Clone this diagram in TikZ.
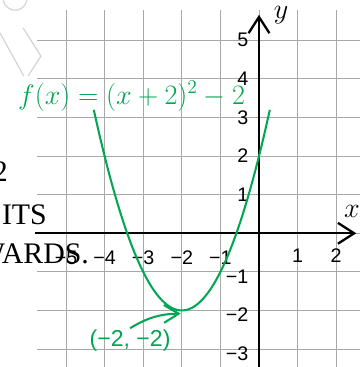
\documentclass[tikz,border=0pt]{standalone}
\usepackage{fontspec}
\usepackage{tikz}
\usetikzlibrary{positioning,arrows.meta}
\newfontfamily\tickfont{Liberation Sans}
\newfontfamily\pagefont{Liberation Serif}
\definecolor{CurveGreen}{RGB}{0,166,81}
\definecolor{GridGray}{RGB}{168,168,168}
\definecolor{MarkGray}{RGB}{212,212,212}

\begin{document}
\begin{tikzpicture}[every node/.style={inner sep=0pt},
  gridline/.style={GridGray, line width=0.7pt},
  axisline/.style={line width=1.7pt, -{Straight Barb[length=4.2mm,width=5.4mm]}},
  ticklab/.style={font=\tickfont\fontsize{14.5}{14.5}\selectfont},
  pagetext/.style={font=\pagefont\fontsize{22}{22}\selectfont, anchor=base east}]
\useasboundingbox (-6.71,-3.464) rectangle (2.617,6.044);
% faint mark
\draw[MarkGray, line width=0.9pt] (-6.625,6.036) arc[start angle=190, end angle=350, radius=0.31];
\draw[MarkGray, line width=0.9pt] (-6.11,5.32) -- (-5.65,4.59) -- (-5.98,4.08);
\draw[MarkGray, line width=0.9pt] (-6.71,5.19) -- (-6.09,4.07);
% grid
\foreach \x in {-5,...,2} \draw[gridline] (\x,-3.47) -- (\x,5.78);
\foreach \y in {-3,...,5} \draw[gridline] (-5.75,\y) -- (2.62,\y);
% axes
\coordinate (xstart) at (-5.8,0);
\coordinate (xend) at (2.52,0);
\coordinate (ystart) at (0,-3.47);
\coordinate (yend) at (0,5.66);
\draw[axisline] (xstart) -- (xend);
\draw[axisline] (ystart) -- (yend);
\node[font=\fontsize{20}{20}\selectfont] (xlab) at (2.41,0.57) {$x$};
\node[font=\fontsize{20}{20}\selectfont] (ylab) at (0.57,5.64) {$y$};
% ticks
\foreach \n in {1,...,5} \node[ticklab] at (-\n,-0.64) {−\n};
\foreach \n in {1,2} \node[ticklab] at (\n,-0.58) {\n};
\foreach \n in {1,...,5} \node[ticklab, anchor=east] at (-0.27,\n) {\n};
\foreach \n in {1,2,3} \node[ticklab, anchor=east] at (-0.27,-\n-0.12) {−\n};
% page fragments
\node[pagetext] (frag1) at (-6.50,1.33) {2};
\node[pagetext] (frag2) at (-5.49,0.215) {ITS};
\node[pagetext] (frag3) at (-4.40,-0.77) {WARDS.};
% curve
\draw[CurveGreen, line width=1.5pt, domain=-4.28:0.28, samples=60, smooth] plot (\x,{(\x+2)*(\x+2)-2});
\node[text=CurveGreen, font=\fontsize{20}{24}\selectfont] (flab) at (-3.3,3.55) {$f(x) = (x+2)^2 - 2$};
\node[text=CurveGreen, font=\tickfont\fontsize{17}{17}\selectfont] (vlab) at (-3.34,-2.78) {(−2, −2)};
\coordinate (vtx) at (-2.03,-2.08);
\draw[CurveGreen, line width=1.5pt, -{Straight Barb[length=3.8mm,width=4.6mm]}] ([yshift=1pt]vlab.north) to[bend left=15] (vtx);
\end{tikzpicture}
\end{document}
